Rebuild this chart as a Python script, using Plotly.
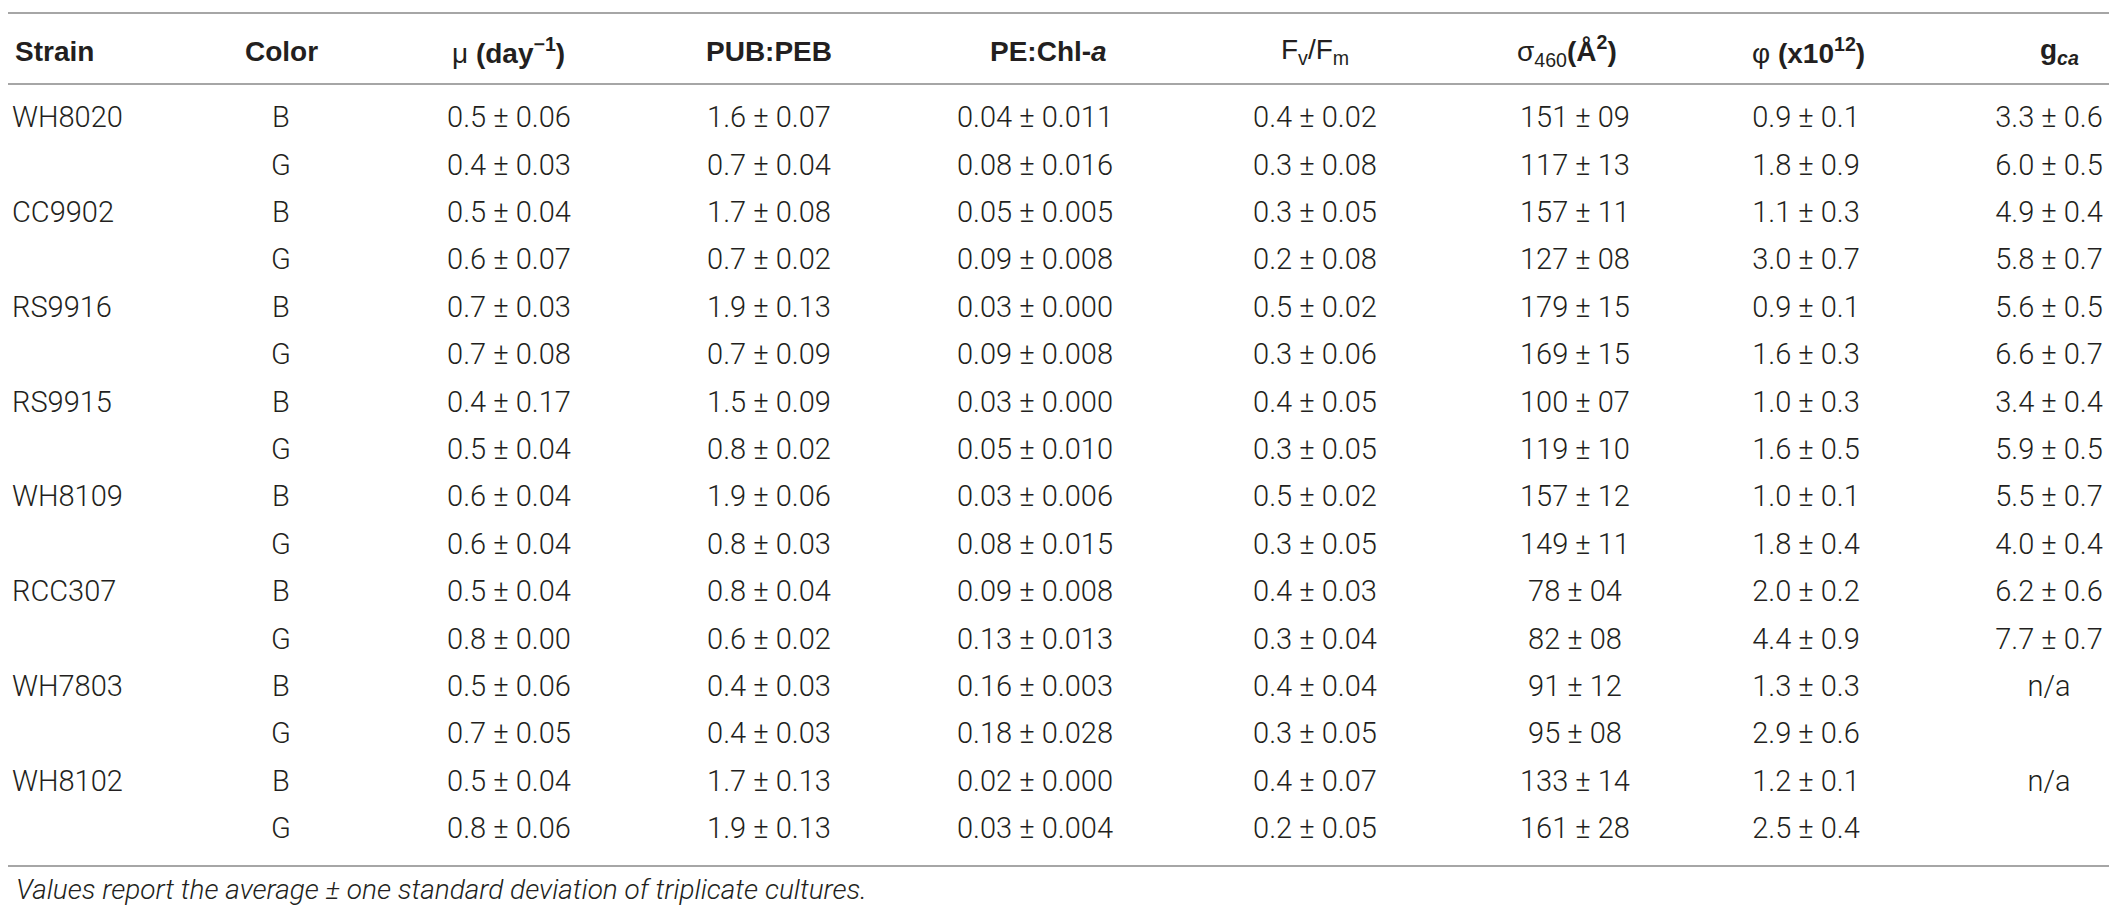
import plotly.graph_objects as go

# ---------------- data ----------------
strains = ["WH8020", "CC9902", "RS9916", "RS9915", "WH8109", "RCC307", "WH7803", "WH8102"]
light_color = ["B", "G"] * 8

mu = ["0.5 ± 0.06", "0.4 ± 0.03", "0.5 ± 0.04", "0.6 ± 0.07", "0.7 ± 0.03", "0.7 ± 0.08",
      "0.4 ± 0.17", "0.5 ± 0.04", "0.6 ± 0.04", "0.6 ± 0.04", "0.5 ± 0.04", "0.8 ± 0.00",
      "0.5 ± 0.06", "0.7 ± 0.05", "0.5 ± 0.04", "0.8 ± 0.06"]
pub_peb = ["1.6 ± 0.07", "0.7 ± 0.04", "1.7 ± 0.08", "0.7 ± 0.02", "1.9 ± 0.13", "0.7 ± 0.09",
           "1.5 ± 0.09", "0.8 ± 0.02", "1.9 ± 0.06", "0.8 ± 0.03", "0.8 ± 0.04", "0.6 ± 0.02",
           "0.4 ± 0.03", "0.4 ± 0.03", "1.7 ± 0.13", "1.9 ± 0.13"]
pe_chl = ["0.04 ± 0.011", "0.08 ± 0.016", "0.05 ± 0.005", "0.09 ± 0.008", "0.03 ± 0.000",
          "0.09 ± 0.008", "0.03 ± 0.000", "0.05 ± 0.010", "0.03 ± 0.006", "0.08 ± 0.015",
          "0.09 ± 0.008", "0.13 ± 0.013", "0.16 ± 0.003", "0.18 ± 0.028", "0.02 ± 0.000",
          "0.03 ± 0.004"]
fv_fm = ["0.4 ± 0.02", "0.3 ± 0.08", "0.3 ± 0.05", "0.2 ± 0.08", "0.5 ± 0.02", "0.3 ± 0.06",
         "0.4 ± 0.05", "0.3 ± 0.05", "0.5 ± 0.02", "0.3 ± 0.05", "0.4 ± 0.03", "0.3 ± 0.04",
         "0.4 ± 0.04", "0.3 ± 0.05", "0.4 ± 0.07", "0.2 ± 0.05"]
sigma460 = ["151 ± 09", "117 ± 13", "157 ± 11", "127 ± 08", "179 ± 15", "169 ± 15",
            "100 ± 07", "119 ± 10", "157 ± 12", "149 ± 11", "78 ± 04", "82 ± 08",
            "91 ± 12", "95 ± 08", "133 ± 14", "161 ± 28"]
phi = ["0.9 ± 0.1", "1.8 ± 0.9", "1.1 ± 0.3", "3.0 ± 0.7", "0.9 ± 0.1", "1.6 ± 0.3",
       "1.0 ± 0.3", "1.6 ± 0.5", "1.0 ± 0.1", "1.8 ± 0.4", "2.0 ± 0.2", "4.4 ± 0.9",
       "1.3 ± 0.3", "2.9 ± 0.6", "1.2 ± 0.1", "2.5 ± 0.4"]
g_ca = ["3.3 ± 0.6", "6.0 ± 0.5", "4.9 ± 0.4", "5.8 ± 0.7", "5.6 ± 0.5", "6.6 ± 0.7",
        "3.4 ± 0.4", "5.9 ± 0.5", "5.5 ± 0.7", "4.0 ± 0.4", "6.2 ± 0.6", "7.7 ± 0.7",
        "n/a", None, "n/a", None]

headers = [
    "<b>Strain</b>",
    "<b>Color</b>",
    "μ <b>(day<sup>−1</sup>)</b>",
    "<b>PUB:PEB</b>",
    "<b>PE:Chl-<i>a</i></b>",
    "F<sub>v</sub>/F<sub>m</sub>",
    "σ<sub>460</sub><b>(Å<sup>2</sup>)</b>",
    "φ <b>(x10<sup>12</sup>)</b>",
    "<b>g<sub><i>ca</i></sub></b>",
]
caption = "<i>Values report the average ± one standard deviation of triplicate cultures.</i>"

# ---------------- layout constants ----------------
W, H = 2117, 906
ROW0_PX, ROW_PX = 112.0, 47.4          # pixel centre of first row, row pitch


def py(px):
    """pixel row -> data row coordinate"""
    return (px - ROW0_PX) / ROW_PX


col_x = [4, 273, 501, 761, 1027, 1307, 1567, 1798, 2041]
head_x = [5, 273, 500, 761, 1040, 1307, 1559, 1800, 2051]
FONT = "Roboto, Liberation Sans, sans-serif"
HFONT = "Liberation Sans, Arial, sans-serif"
TXT = "#231f20"
FS = 29

n = len(light_color)
strain_rows = list(range(0, n, 2))

columns = [
    (strains, strain_rows),
    (light_color, list(range(n))),
    (mu, list(range(n))),
    (pub_peb, list(range(n))),
    (pe_chl, list(range(n))),
    (fv_fm, list(range(n))),
    (sigma460, list(range(n))),
    (phi, list(range(n))),
    ([v for v in g_ca if v], [i for i, v in enumerate(g_ca) if v]),
]

fig = go.Figure()
for k, (vals, rws) in enumerate(columns):
    fig.add_trace(go.Scatter(
        x=[col_x[k]] * len(rws), y=rws, mode="text", text=vals,
        textposition="middle right" if k == 0 else "middle center",
        textfont=dict(family=FONT, size=FS, color=TXT, weight=300),
        hoverinfo="skip", showlegend=False,
    ))

for k, h in enumerate(headers):
    fig.add_annotation(
        x=head_x[k], y=py(43), xref="x", yref="y", text=h, showarrow=False,
        xanchor="left" if k == 0 else "center", yanchor="middle",
        font=dict(family=HFONT, size=28, color=TXT),
    )

fig.add_annotation(
    x=6, y=py(881), xref="x", yref="y", text=caption, showarrow=False,
    xanchor="left", yanchor="middle",
    font=dict(family=FONT, size=28, color=TXT, weight=300),
)

for px in (5, 76, 858):
    fig.add_shape(type="line", xref="x", yref="y", x0=0, x1=2112, y0=py(px), y1=py(px),
                  line=dict(color="#a6a6a6", width=2))

fig.update_xaxes(range=[0, W], visible=False, fixedrange=True)
fig.update_yaxes(range=[py(H), py(0)], visible=False, fixedrange=True)
fig.update_layout(
    width=W, height=H, margin=dict(l=0, r=0, t=0, b=0),
    paper_bgcolor="white", plot_bgcolor="white",
)

fig.write_html("out.html")
